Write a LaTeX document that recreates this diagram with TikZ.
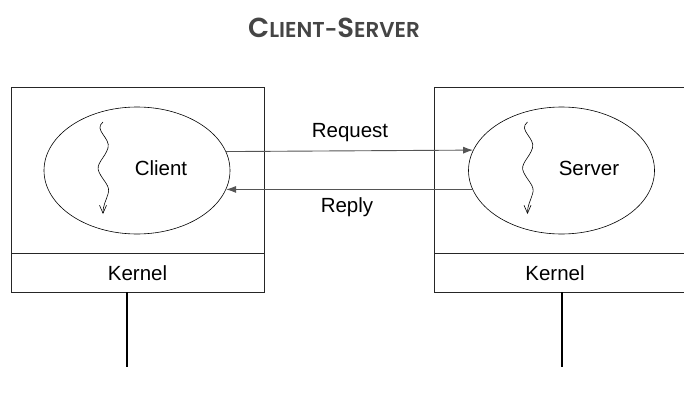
\documentclass[tikz,border=0pt]{standalone}
\usepackage{fontspec}
\setmainfont{Liberation Sans}
\newfontfamily\titlefont{Poppins SemiBold}
\usetikzlibrary{shapes.geometric,arrows.meta}

\definecolor{titlegray}{HTML}{454545}
\definecolor{wiregray}{HTML}{555555}

\tikzset{
  hostbox/.style={draw=black!85, line width=0.9pt},
  proc/.style={ellipse, draw=black, line width=0.6pt, minimum width=186pt, minimum height=127pt, inner sep=0pt},
  lbl/.style={font=\fontsize{20.5}{24}\selectfont, inner sep=0pt},
  msg/.style={draw=wiregray, line width=0.9pt, -{Latex[length=10pt,width=7pt]}},
  thread/.style={draw=black, line width=0.6pt, -{Straight Barb[length=8pt,width=7pt]}},
  wire/.style={draw=black, line width=2.6pt}
}

\begin{document}
\begin{tikzpicture}[x=1pt,y=-1pt]
\useasboundingbox (0,0) rectangle (684,393);

% title
\node[inner sep=0pt, text=titlegray, anchor=base] (title) at (334,37.5)
  {\titlefont{\fontsize{27.5}{29}\selectfont C}{\fontsize{21.5}{23}\selectfont LIENT-}{\fontsize{27.5}{29}\selectfont S}{\fontsize{21.5}{23}\selectfont ERVER}};

% client host
\draw[hostbox] (11,87) rectangle (264,292);
\draw[hostbox] (11,253) -- (264,253);
\node[lbl] (kernelA) at (137.5,273) {Kernel};
\node[proc] (client) at (137,170.5) {};
\node[lbl] (clientlbl) at (161,168) {Client};
\coordinate (tA0) at (103,122);
\draw[thread] (tA0) .. controls (93,130) and (111,138) .. (108,148)
  .. controls (105,158) and (95,164) .. (99,172)
  .. controls (103,181) and (111,186) .. (108,194)
  .. controls (106,201) and (103,205) .. (103,214);

% server host
\draw[hostbox] (434,87) -- (690,87) (434,87) -- (434,292) -- (690,292);
\draw[hostbox] (434,253) -- (690,253);
\node[lbl] (kernelB) at (555,273) {Kernel};
\node[proc] (server) at (561.5,170.5) {};
\node[lbl] (serverlbl) at (589,168) {Server};
\coordinate (tB0) at (527.5,122);
\draw[thread] (tB0) .. controls (517.5,130) and (535.5,138) .. (532.5,148)
  .. controls (529.5,158) and (519.5,164) .. (523.5,172)
  .. controls (527.5,181) and (535.5,186) .. (532.5,194)
  .. controls (530.5,201) and (527.5,205) .. (527.5,214);

% messages
\draw[msg] (client.12.4) -- (server.167.6);
\draw[msg] (server.192.8) -- (client.-12.8);
\node[lbl] (req) at (350,133) {Request};
\node[lbl] (rep) at (347,207) {Reply};

% network attachments
\coordinate (wA) at (127,367);
\coordinate (wB) at (562,367);
\draw[wire] (127,292) -- (wA);
\draw[wire] (562,292) -- (wB);
\end{tikzpicture}
\end{document}
